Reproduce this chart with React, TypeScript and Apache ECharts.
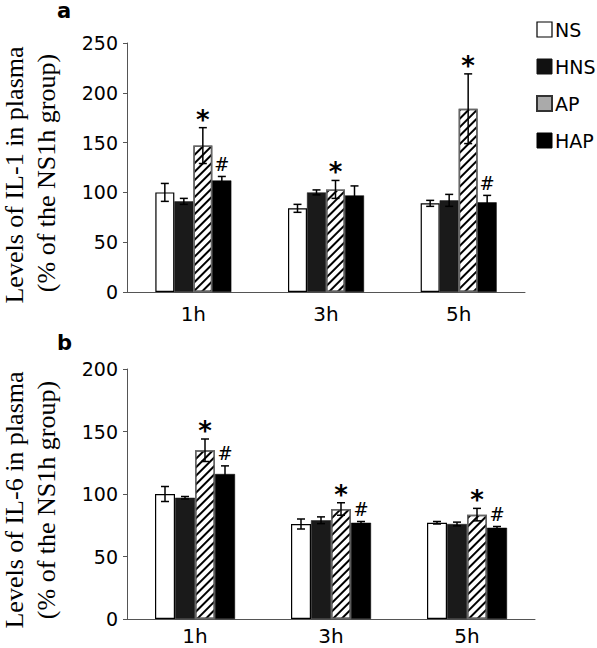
import React, { useEffect, useRef } from "react";
import * as echarts from "echarts";

const categories = ["1h", "3h", "5h"];
const groups = ["NS", "HNS", "AP", "HAP"];

// Panel a: IL-1
const il1NS = [100, 84, 89];
const il1HNS = [91, 100, 92];
const il1AP = [147, 103, 184];
const il1HAP = [112, 97, 90];
const il1ErrNS = [9, 4, 3];
const il1ErrHNS = [3, 2.5, 6];
const il1ErrAP = [18, 9, 35];
const il1ErrHAP = [4, 9.5, 7];
const il1MarkAP = ["*", "*", "*"];
const il1MarkHAP = ["#", "", "#"];

// Panel b: IL-6
const il6NS = [100, 76, 77];
const il6HNS = [97, 79, 76];
const il6AP = [135, 88, 83.5];
const il6HAP = [116, 77, 73];
const il6ErrNS = [6, 4, 1];
const il6ErrHNS = [1, 2.7, 1.5];
const il6ErrAP = [9, 5, 5];
const il6ErrHAP = [6.5, 1, 1];
const il6MarkAP = ["*", "*", "*"];
const il6MarkHAP = ["#", "#", "#"];

const hatch = {
  symbol: "rect",
  symbolSize: 1,
  dashArrayX: [1, 0],
  dashArrayY: [2, 4],
  rotation: -Math.PI / 4,
  color: "#000",
  backgroundColor: "#fff",
};

const styles: any[] = [
  { color: "#fff", borderColor: "#000", borderWidth: 1.2 },
  { color: "#1a1a1a", borderColor: "#1a1a1a", borderWidth: 0.5 },
  { color: "#fff", borderColor: "#666", borderWidth: 1.5, decal: hatch },
  { color: "#000", borderColor: "#000", borderWidth: 0.5 },
];

export default function App() {
  const ref = useRef<HTMLDivElement>(null);
  useEffect(() => {
    if (!ref.current) return;
    const chart = echarts.init(ref.current, null, { renderer: "svg" });

    const panels = [
      {
        means: [il1NS, il1HNS, il1AP, il1HAP],
        errs: [il1ErrNS, il1ErrHNS, il1ErrAP, il1ErrHAP],
        marks: [[], [], il1MarkAP, il1MarkHAP],
        barWidth: 19,
      },
      {
        means: [il6NS, il6HNS, il6AP, il6HAP],
        errs: [il6ErrNS, il6ErrHNS, il6ErrAP, il6ErrHAP],
        marks: [[], [], il6MarkAP, il6MarkHAP],
        barWidth: 20,
      },
    ];

    const series: any[] = [];
    panels.forEach((p, pi) => {
      groups.forEach((g, gi) => {
        series.push({
          name: g,
          type: "bar",
          xAxisIndex: pi,
          yAxisIndex: pi,
          barWidth: p.barWidth,
          barGap: "0%",
          itemStyle: styles[gi],
          data: p.means[gi],
          z: 2,
        });
      });
      groups.forEach((g, gi) => {
        const marks: string[] = p.marks[gi] as string[];
        const offset = (gi - 1.5) * p.barWidth;
        series.push({
          type: "custom",
          xAxisIndex: pi,
          yAxisIndex: pi,
          z: 5,
          silent: true,
          data: categories.map((_, ci) => [ci, p.means[gi][ci], p.errs[gi][ci]]),
          renderItem: (params: any, api: any) => {
            const ci = api.value(0);
            const m = api.value(1);
            const e = api.value(2);
            const top = api.coord([ci, m + e]);
            const bot = api.coord([ci, m - e]);
            const x = top[0] + offset;
            const cap = 4;
            const ls = { stroke: "#000", lineWidth: 1.5 };
            const children: any[] = [
              { type: "line", shape: { x1: x, y1: top[1], x2: x, y2: bot[1] }, style: ls },
              { type: "line", shape: { x1: x - cap, y1: top[1], x2: x + cap, y2: top[1] }, style: ls },
              { type: "line", shape: { x1: x - cap, y1: bot[1], x2: x + cap, y2: bot[1] }, style: ls },
            ];
            const mk = marks[params.dataIndex];
            if (mk) {
              children.push({
                type: "text",
                style: {
                  text: mk,
                  x: x,
                  y: mk === "*" ? top[1] - 8 : top[1] - 12,
                  textAlign: "center",
                  textVerticalAlign: "middle",
                  fill: "#000",
                  font: mk === "*" ? "bold 26px 'DejaVu Sans'" : "18px 'DejaVu Serif'",
                },
              });
            }
            return { type: "group", children };
          },
        });
      });
    });

    const axisLabel = { fontFamily: "'DejaVu Sans'", fontSize: 19, color: "#000" };
    const axisLine = { show: true, lineStyle: { color: "#555", width: 1 } };

    chart.setOption({
      animation: false,
      legend: {
        orient: "vertical",
        left: 531,
        top: 15,
        itemWidth: 15,
        itemHeight: 15,
        itemGap: 18,
        textStyle: { fontFamily: "'DejaVu Sans'", fontSize: 19, color: "#000", padding: [0, 0, 0, -2] },
        data: [
          { name: "NS", itemStyle: { color: "#fff", borderColor: "#000", borderWidth: 1.2 } },
          { name: "HNS", itemStyle: { color: "#111", borderColor: "#111", borderWidth: 1 } },
          { name: "AP", itemStyle: { color: "#aaa", borderColor: "#333", borderWidth: 2, decal: "none" } },
          { name: "HAP", itemStyle: { color: "#000", borderColor: "#000", borderWidth: 1 } },
        ],
        icon: "rect",
      },
      grid: [
        { left: 127, top: 43, width: 398, height: 249, containLabel: false },
        { left: 127, top: 369, width: 408, height: 250, containLabel: false },
      ],
      xAxis: [
        {
          type: "category",
          gridIndex: 0,
          data: categories,
          axisLine,
          axisTick: { show: false },
          axisLabel: { ...axisLabel, fontSize: 20, margin: 12 },
        },
        {
          type: "category",
          gridIndex: 1,
          data: categories,
          axisLine,
          axisTick: { show: false },
          axisLabel: { ...axisLabel, fontSize: 20, margin: 7 },
        },
      ],
      yAxis: [
        {
          type: "value",
          gridIndex: 0,
          min: 0,
          max: 250,
          interval: 50,
          axisLine,
          axisTick: { show: true, length: 4, lineStyle: { color: "#555" } },
          splitLine: { show: false },
          axisLabel: { ...axisLabel, margin: 9 },
        },
        {
          type: "value",
          gridIndex: 1,
          min: 0,
          max: 200,
          interval: 50,
          axisLine,
          axisTick: { show: true, length: 4, lineStyle: { color: "#555" } },
          splitLine: { show: false },
          axisLabel: { ...axisLabel, margin: 9 },
        },
      ],
      graphic: [
        { type: "text", left: 57, top: 0, style: { text: "a", font: "bold 21px 'DejaVu Sans'", fill: "#000" } },
        { type: "text", left: 57, top: 332, style: { text: "b", font: "bold 21px 'DejaVu Sans'", fill: "#000" } },
        {
          type: "text", x: 14, y: 175, rotation: Math.PI / 2,
          style: { text: "Levels of IL-1 in plasma", font: "26px 'Liberation Serif'", fill: "#000", textAlign: "center", textVerticalAlign: "middle" },
        },
        {
          type: "text", x: 46, y: 173, rotation: Math.PI / 2,
          style: { text: "(% of the NS1h group)", font: "26px 'Liberation Serif'", fill: "#000", textAlign: "center", textVerticalAlign: "middle" },
        },
        {
          type: "text", x: 14, y: 500, rotation: Math.PI / 2,
          style: { text: "Levels of IL-6 in plasma", font: "26px 'Liberation Serif'", fill: "#000", textAlign: "center", textVerticalAlign: "middle" },
        },
        {
          type: "text", x: 46, y: 500, rotation: Math.PI / 2,
          style: { text: "(% of the NS1h group)", font: "26px 'Liberation Serif'", fill: "#000", textAlign: "center", textVerticalAlign: "middle" },
        },
      ],
      series,
    });
    return () => chart.dispose();
  }, []);
  return (
    <div
      ref={ref}
      style={{ position: "fixed", left: 0, top: 0, width: 597, height: 648, background: "#fff" }}
    />
  );
}
